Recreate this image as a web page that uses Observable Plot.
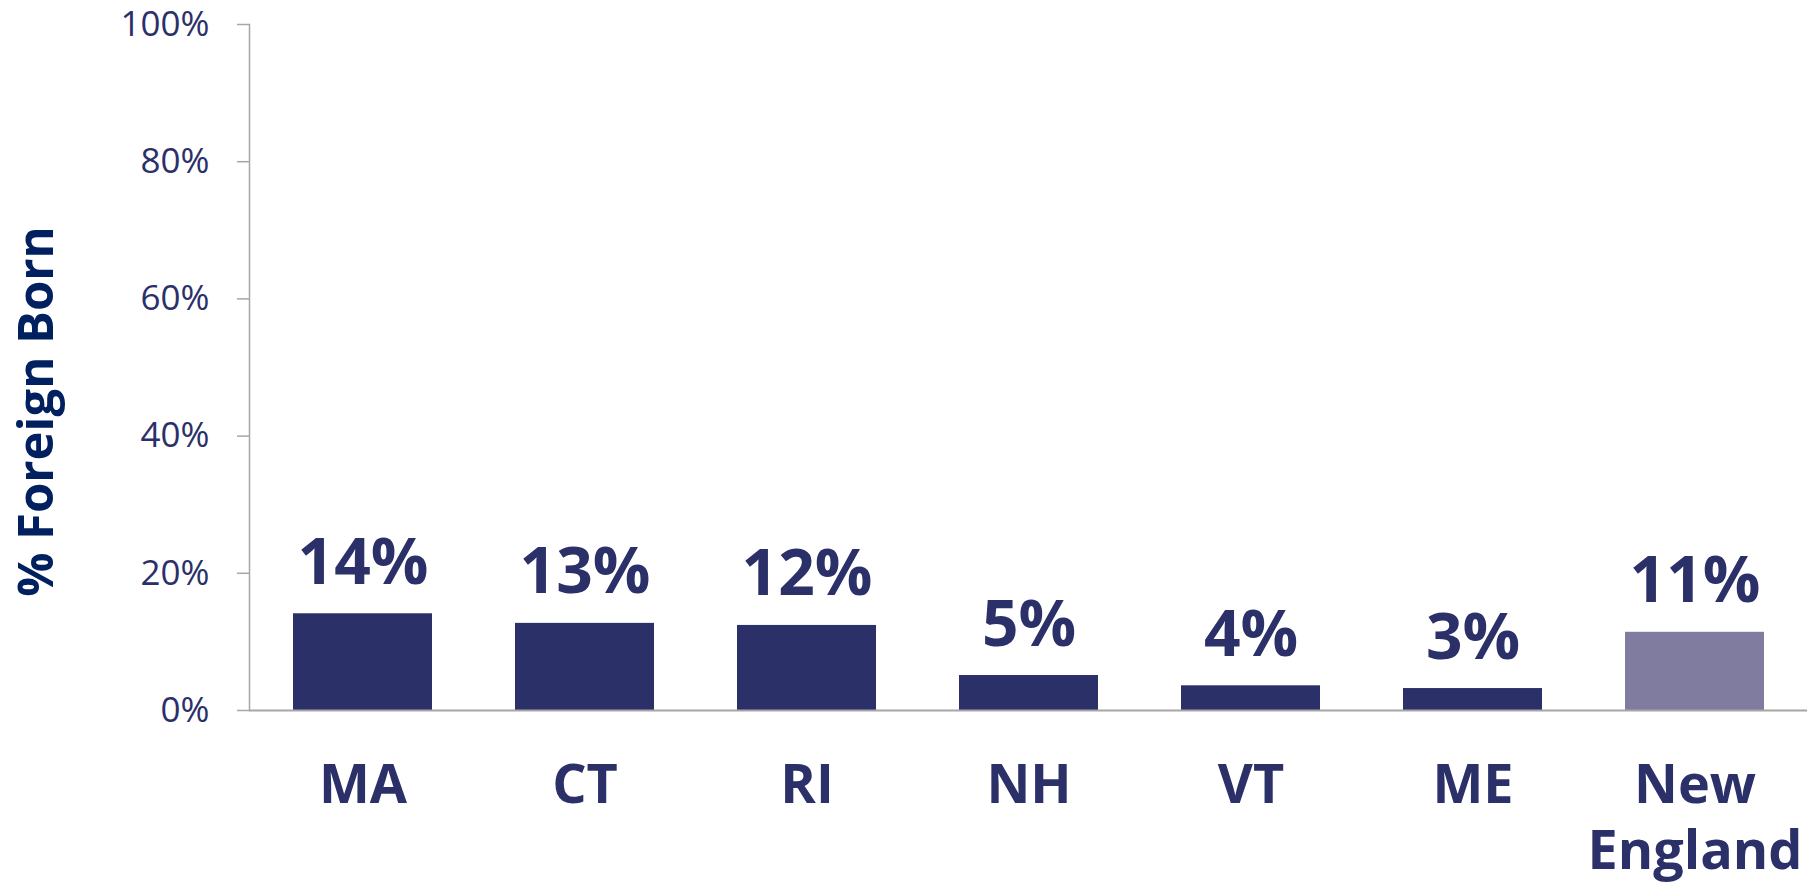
<!DOCTYPE html>
<html><head><meta charset="utf-8">
<script src="https://cdn.jsdelivr.net/npm/d3@7"></script>
<script src="https://cdn.jsdelivr.net/npm/@observablehq/plot@0.6"></script>
<style>body{margin:0;background:#fff;} #chart svg{display:block;}</style>
</head><body><div id="chart"></div>
<script>
const states = ["MA", "CT", "RI", "NH", "VT", "ME", "New England"];
const shares = [0.141, 0.127, 0.124, 0.051, 0.036, 0.032, 0.114];
const barColors = ["#2B3069", "#2B3069", "#2B3069", "#2B3069", "#2B3069", "#2B3069", "#807C9F"];
const yTicks = [0, 0.2, 0.4, 0.6, 0.8, 1];
const yTitle = ["% Foreign Born"];

const navy = "#2B3069";
const gray = "#A6A6A6";
const pct = d3.format(".0%");
const data = states.map((s, i) => ({state: s, share: shares[i], color: barColors[i]}));

const chart = Plot.plot({
  width: 1818,
  height: 890,
  marginLeft: 249,
  marginRight: 11,
  marginTop: 24,
  marginBottom: 180,
  style: {fontFamily: "'Open Sans', sans-serif", background: "#fff"},
  x: {domain: states, paddingInner: 0.375, paddingOuter: 0.1875, axis: null, label: null},
  y: {domain: [0, 1], axis: null, label: null},
  marks: [
    Plot.barY(data, {x: "state", y: "share", fill: "color"}),
    Plot.frame({anchor: "left", stroke: gray, strokeWidth: 1.5}),
    Plot.ruleY([0], {stroke: gray, strokeWidth: 2}),
    Plot.axisY({ticks: yTicks, tickFormat: pct, tickSize: 12, tickPadding: 28, fontSize: 35,
      fill: navy, stroke: gray, strokeWidth: 1.5, label: null}),
    Plot.axisX({tickSize: 0, tickPadding: 46, fontSize: 54, fontWeight: 700, fill: navy,
      tickFormat: d => d.replace(" ", "\n"), lineHeight: 1.22, label: null}),
    Plot.text(data, {x: "state", y: "share", text: d => pct(d.share), lineAnchor: "bottom",
      dy: -30, fontSize: 64, fontWeight: 700, fill: navy}),
    Plot.text(yTitle, {text: d => d, frameAnchor: "left", textAnchor: "middle", rotate: -90,
      dx: -212, dy: 44, fontSize: 49, fontWeight: 700, fill: "#002060"})
  ]
});
document.getElementById("chart").appendChild(chart);
</script>
</body></html>
